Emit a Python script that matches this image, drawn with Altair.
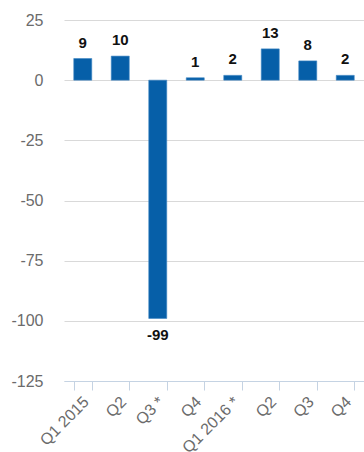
import altair as alt
import pandas as pd

quarters = ["Q1 2015", "Q2", "Q3 *", "Q4", "Q1 2016 *", "Q2", "Q3", "Q4"]
values = [9, 10, -99, 1, 2, 13, 8, 2]

df = pd.DataFrame({
    "idx": list(range(len(quarters))),
    "quarter": quarters,
    "value": values,
})

label_expr = "[" + ",".join(f"'{q}'" for q in quarters) + "][datum.value]"

x = alt.X(
    "idx:O",
    title=None,
    scale=alt.Scale(paddingInner=0.52, paddingOuter=0.26),
    axis=alt.Axis(
        labelExpr=label_expr,
        labelAngle=-45,
        labelAlign="right",
        labelBaseline="middle",
        labelColor="#6b6b6b",
        labelFontSize=16,
        labelFont="Liberation Sans",
        labelPadding=9,
        labelOffset=3,
        domainColor="#c5d3e3",
        tickColor="#c5d3e3",
        tickBand="extent",
        tickSize=9,
        grid=False,
    ),
)
y = alt.Y(
    "value:Q",
    title=None,
    scale=alt.Scale(domain=[-125, 25], nice=False, zero=True),
    axis=alt.Axis(
        values=[-125, -100, -75, -50, -25, 0, 25],
        labelExpr="'' + datum.value",
        domain=False,
        ticks=False,
        labelColor="#6b6b6b",
        labelFontSize=16,
        labelFont="Liberation Sans",
        labelPadding=21,
        gridColor="#d9d9d9",
    ),
)

base = alt.Chart(df).transform_calculate(txt="'' + datum.value")
bars = base.mark_bar(color="#065fa8", stroke="#3f86c2", strokeWidth=0.6).encode(x=x, y=y)

pos = base.transform_filter("datum.value >= 0").mark_text(
    baseline="bottom", dy=-8, fontWeight="bold", fontSize=15,
    font="Liberation Sans", color="#111111",
).encode(x=alt.X("idx:O"), y=alt.Y("value:Q"), text="txt:N")
neg = base.transform_filter("datum.value < 0").mark_text(
    baseline="top", dy=10, fontWeight="bold", fontSize=15,
    font="Liberation Sans", color="#111111",
).encode(x=alt.X("idx:O"), y=alt.Y("value:Q"), text="txt:N")

chart = (
    alt.layer(bars, pos, neg)
    .properties(
        width=300, height=361, autosize="none", background="white",
        padding={"left": 64, "top": 20, "right": 0, "bottom": 71},
    )
    .configure_view(stroke="transparent", strokeWidth=0)
    .configure_axisX(grid=False)
)

chart.save("out.html", embed_options={"renderer": "svg", "actions": False})
